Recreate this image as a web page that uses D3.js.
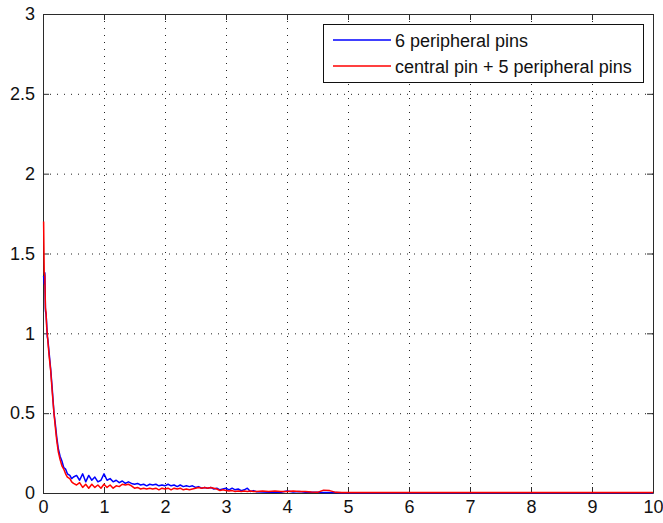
<!DOCTYPE html>
<html>
<head>
<meta charset="utf-8">
<script src="https://cdn.jsdelivr.net/npm/d3@7.9.0/dist/d3.min.js"></script>
<style>
  html, body { margin: 0; padding: 0; background: #fff; }
  svg { display: block; font-family: "Liberation Sans", Arial, sans-serif; }
</style>
</head>
<body>
<div id="chart"></div>
<script>
const xs = [
  0.01, 0.02, 0.03, 0.04, 0.05, 0.06, 0.07, 0.08, 0.10, 0.125, 0.15, 0.165, 0.18, 0.20, 0.225, 0.25,
  0.28, 0.31, 0.34, 0.37, 0.40, 0.44, 0.47, 0.50,
  0.55, 0.60, 0.65, 0.70, 0.75, 0.80, 0.85, 0.90, 0.95, 1.00,
  1.05, 1.10, 1.15, 1.20, 1.25, 1.30, 1.35, 1.40, 1.45, 1.50,
  1.55, 1.60, 1.65, 1.70, 1.75, 1.80, 1.85, 1.90, 1.95, 2.00,
  2.05, 2.10, 2.15, 2.20, 2.25, 2.30, 2.35, 2.40, 2.45, 2.50,
  2.55, 2.60, 2.65, 2.70, 2.75, 2.80, 2.85, 2.90, 2.95, 3.00,
  3.05, 3.10, 3.15, 3.20, 3.25, 3.30, 3.35, 3.40, 3.45, 3.50,
  3.6, 3.7, 3.8, 3.9, 4.0, 4.1, 4.2, 4.3, 4.4, 4.5, 4.6, 4.7, 4.8, 4.9, 5.0,
  5.5, 6.0, 6.5, 7.0, 7.5, 8.0, 8.5, 9.0, 9.5, 10.0
];

const peripheral6 = [
  1.36, 1.31, 1.38, 1.14, 1.12, 1.06, 0.98, 0.96, 0.88, 0.78, 0.66, 0.58, 0.50, 0.44, 0.35, 0.28,
  0.23, 0.20, 0.16, 0.15, 0.12, 0.11, 0.09, 0.10,
  0.11, 0.08, 0.12, 0.07, 0.11, 0.08, 0.10, 0.07, 0.08, 0.12,
  0.08, 0.09, 0.07, 0.08, 0.065, 0.075, 0.06, 0.07, 0.06, 0.055,
  0.06, 0.05, 0.055, 0.045, 0.055, 0.05, 0.055, 0.045, 0.05, 0.045,
  0.055, 0.045, 0.05, 0.04, 0.05, 0.04, 0.045, 0.04, 0.045, 0.035,
  0.04, 0.03, 0.035, 0.03, 0.035, 0.025, 0.03, 0.02, 0.025, 0.03,
  0.02, 0.03, 0.02, 0.025, 0.015, 0.02, 0.03, 0.01, 0.015, 0.008,
  0.006, 0.005, 0.006, 0.005, 0.012, 0.006, 0.01, 0.005, 0.004, 0.004, 0.003, 0.003, 0.003, 0.002, 0.002,
  0.002, 0.002, 0.002, 0.002, 0.002, 0.002, 0.002, 0.002, 0.002, 0.002
];

const central5 = [
  1.70, 1.38, 1.36, 1.16, 1.13, 1.04, 1.00, 0.95, 0.86, 0.77, 0.64, 0.57, 0.50, 0.42, 0.33, 0.26,
  0.21, 0.17, 0.15, 0.12, 0.10, 0.09, 0.07, 0.06,
  0.05, 0.065, 0.035, 0.055, 0.03, 0.055, 0.035, 0.05, 0.03, 0.055,
  0.035, 0.05, 0.03, 0.045, 0.04, 0.055, 0.05, 0.055, 0.045, 0.03,
  0.035, 0.025, 0.03, 0.025, 0.03, 0.025, 0.03, 0.02, 0.03, 0.025,
  0.03, 0.02, 0.03, 0.025, 0.03, 0.02, 0.025, 0.02, 0.025, 0.03,
  0.035, 0.03, 0.035, 0.03, 0.035, 0.03, 0.025, 0.015, 0.02, 0.015,
  0.012, 0.015, 0.01, 0.012, 0.01, 0.012, 0.01, 0.012, 0.01, 0.01,
  0.012, 0.01, 0.012, 0.01, 0.01, 0.012, 0.01, 0.01, 0.006, 0.004, 0.018, 0.015, 0.004, 0.003, 0.003,
  0.003, 0.003, 0.003, 0.003, 0.003, 0.003, 0.003, 0.003, 0.003, 0.003
];

const xTicks = [0, 1, 2, 3, 4, 5, 6, 7, 8, 9, 10];
const yTicks = [0, 0.5, 1, 1.5, 2, 2.5, 3];
const legendLabels = ['6 peripheral pins', 'central pin + 5 peripheral pins'];

const width = 663, height = 523;
const margin = { top: 14, right: 10, bottom: 30, left: 43 };
const innerWidth = width - margin.left - margin.right;
const innerHeight = height - margin.top - margin.bottom;

const svg = d3.select('#chart').append('svg')
    .attr('width', width)
    .attr('height', height);

svg.append('rect').attr('width', width).attr('height', height).attr('fill', '#fff');

const g = svg.append('g')
    .attr('transform', `translate(${margin.left}, ${margin.top})`);

const x = d3.scaleLinear().domain([0, 10]).range([0, innerWidth]);
const y = d3.scaleLinear().domain([0, 3]).range([innerHeight, 0]);

// dotted grid
g.append('g').selectAll('line')
    .data(xTicks.slice(1, -1))
    .join('line')
    .attr('x1', d => x(d) + 0.5).attr('x2', d => x(d) + 0.5)
    .attr('y1', 0).attr('y2', innerHeight)
    .attr('stroke', '#222').attr('stroke-width', 1)
    .attr('stroke-dasharray', '1,6');

g.append('g').selectAll('line')
    .data(yTicks.slice(1, -1))
    .join('line')
    .attr('x1', 0).attr('x2', innerWidth)
    .attr('y1', d => y(d) + 0.5).attr('y2', d => y(d) + 0.5)
    .attr('stroke', '#222').attr('stroke-width', 1)
    .attr('stroke-dasharray', '1,6');

// axes, ticks inside, box on all sides
const axisStyle = sel => {
    sel.select('.domain').attr('stroke', '#2b2b2b');
    sel.selectAll('.tick line').attr('stroke', '#2b2b2b');
    sel.selectAll('.tick text').attr('fill', '#111').style('font-size', '18px')
        .style('font-family', '"Liberation Sans", Arial, sans-serif');
};

g.append('g')
    .attr('transform', `translate(0, ${innerHeight})`)
    .call(d3.axisBottom(x).tickValues(xTicks).tickFormat(d3.format('d'))
        .tickSizeInner(-6).tickSizeOuter(0).tickPadding(7))
    .call(axisStyle);

g.append('g')
    .call(d3.axisLeft(y).tickValues(yTicks).tickFormat(d => String(d))
        .tickSizeInner(-6).tickSizeOuter(0).tickPadding(8))
    .call(axisStyle);

g.append('g')
    .call(d3.axisTop(x).tickValues(xTicks).tickFormat('')
        .tickSizeInner(-6).tickSizeOuter(0))
    .call(axisStyle);

g.append('g')
    .attr('transform', `translate(${innerWidth}, 0)`)
    .call(d3.axisRight(y).tickValues(yTicks).tickFormat('')
        .tickSizeInner(-6).tickSizeOuter(0))
    .call(axisStyle);

// data lines
const line = d3.line()
    .x(d => x(d[0]))
    .y(d => y(d[1]));

const series = [
    { name: legendLabels[0], color: '#0000ff', values: xs.map((v, i) => [v, peripheral6[i]]) },
    { name: legendLabels[1], color: '#ff0000', values: xs.map((v, i) => [v, central5[i]]) }
];

g.selectAll('.series')
    .data(series)
    .join('path')
    .attr('class', 'series')
    .attr('d', d => line(d.values))
    .attr('fill', 'none')
    .attr('stroke', d => d.color)
    .attr('stroke-width', 1.5)
    .attr('stroke-linejoin', 'round');

// legend
const legend = svg.append('g').attr('transform', 'translate(323, 24)');
legend.append('rect')
    .attr('x', 0.5).attr('y', 0.5)
    .attr('width', 320).attr('height', 58)
    .attr('fill', '#fff').attr('stroke', '#111');

const rows = legend.selectAll('.row')
    .data(series)
    .join('g')
    .attr('class', 'row')
    .attr('transform', (d, i) => `translate(0, ${16 + i * 26})`);

rows.append('line')
    .attr('x1', 10).attr('x2', 68)
    .attr('stroke', d => d.color).attr('stroke-width', 1.4);

rows.append('text')
    .attr('x', 72).attr('y', 7)
    .style('font-size', '18px')
    .attr('fill', '#111')
    .text(d => d.name);
</script>
</body>
</html>
